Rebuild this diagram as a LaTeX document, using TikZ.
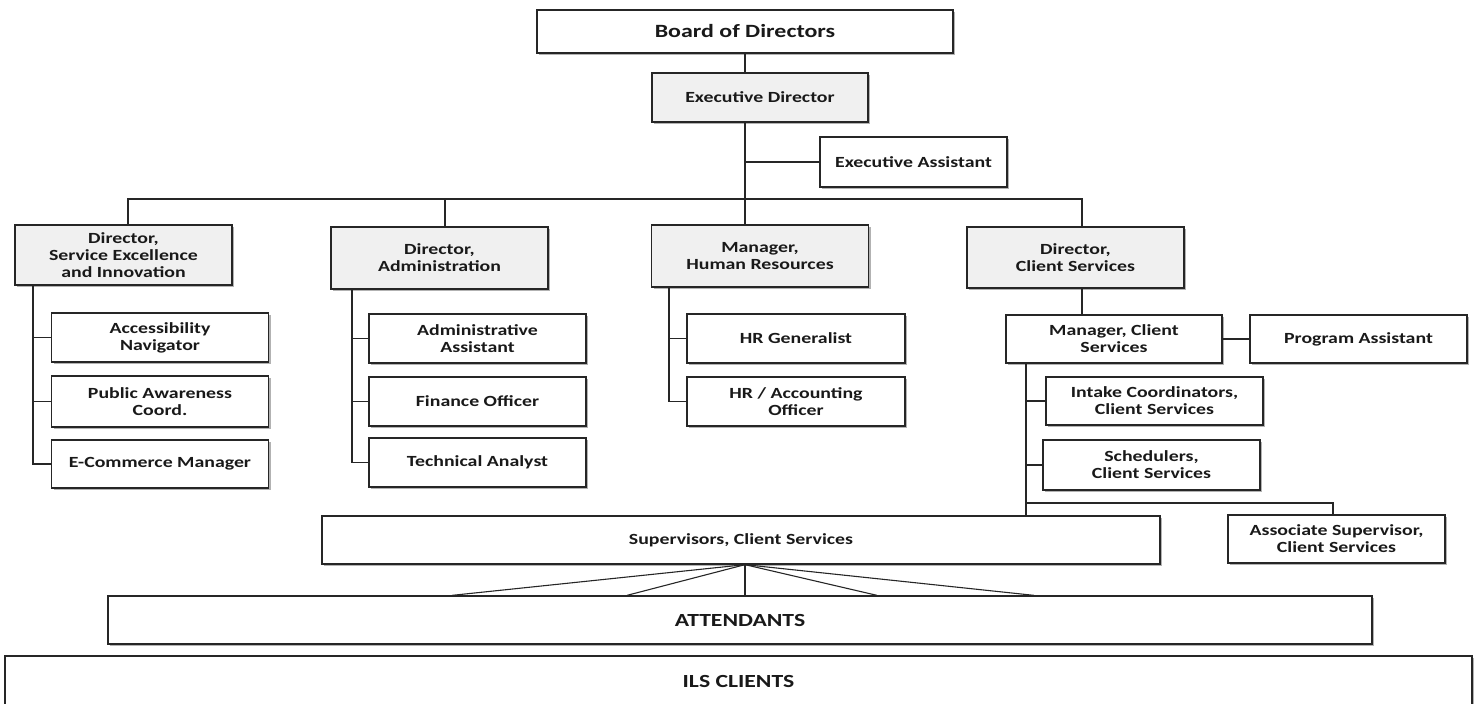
\documentclass[tikz,border=0pt]{standalone}
\usepackage{fontspec}
\setmainfont{Carlito}[FakeStretch=1.28]
\usetikzlibrary{shadows,calc}

\tikzset{
  box/.style={draw=black!85, line width=1.3pt, fill=white, text=black!90,
    minimum width=217pt, minimum height=49pt, align=center, inner sep=1pt,
    font=\bfseries\fontsize{15.5}{17}\selectfont,
    drop shadow={shadow xshift=2pt, shadow yshift=-2pt, fill=black, opacity=0.3}},
  headbox/.style={box, fill=black!6},
  link/.style={line width=1.3pt, draw=black!85},
}

\begin{document}
\begin{tikzpicture}[x=1pt, y=-1pt]
  \useasboundingbox (0,0) rectangle (1478,704);

  % top
  \node[box, minimum width=416pt, minimum height=43pt, font=\bfseries\fontsize{18.7}{21}\selectfont] (board) at (745,31.5) {Board of Directors};
  \node[headbox, minimum width=216pt] (exec) at (760,97.5) {Executive Director};
  \node[box, minimum width=187pt, minimum height=50pt] (assist) at (913.5,162) {Executive Assistant};

  % directors
  \node[headbox, minimum height=60pt] (sei) at (123.5,255) {Director,\\Service Excellence\\and Innovation};
  \node[headbox, minimum height=62pt] (admin) at (439.5,258) {Director,\\Administration};
  \node[headbox, minimum height=62pt] (hrm) at (760,256) {Manager,\\Human Resources};
  \node[headbox, minimum height=61pt] (dcs) at (1075.5,257.5) {Director,\\Client Services};

  % staff
  \node[box] (nav) at (160,337.5) {Accessibility\\Navigator};
  \node[box, minimum height=51pt] (pub) at (160,401.5) {Public Awareness\\Coord.};
  \node[box, minimum height=48pt] (ecom) at (160,464) {E-Commerce Manager};

  \node[box] (aasst) at (477.5,338.5) {Administrative\\Assistant};
  \node[box] (fin) at (477.5,401.5) {Finance Officer};
  \node[box] (tech) at (477.5,462.5) {Technical Analyst};

  \node[box, minimum width=218pt] (hrg) at (796,338.5) {HR Generalist};
  \node[box, minimum width=218pt] (hra) at (796,401.5) {HR / Accounting\\Officer};

  \node[box, minimum width=216pt, minimum height=48pt] (mcs) at (1114,339) {Manager, Client\\Services};
  \node[box, minimum height=48pt] (prog) at (1358.5,339) {Program Assistant};
  \node[box, minimum height=48pt] (intake) at (1154.5,401) {Intake Coordinators,\\Client Services};
  \node[box, minimum height=50pt] (sched) at (1151.5,465) {Schedulers,\\Client Services};

  % bottom
  \node[box, minimum width=838pt, minimum height=48pt, font=\bfseries\fontsize{15.5}{17}\selectfont] (sup) at (741,540) {Supervisors, Client Services};
  \node[box, minimum height=48pt] (assoc) at (1336.5,539) {Associate Supervisor,\\Client Services};
  \node[box, minimum width=1264pt, minimum height=48pt, font=\bfseries\fontsize{18.5}{21}\selectfont] (att) at (740,620) {ATTENDANTS};
  \node[box, minimum width=1467pt, minimum height=50pt, font=\bfseries\fontsize{18.5}{21}\selectfont] (ils) at (738.5,681) {ILS CLIENTS};

  % bus and spines
  \coordinate (bus) at (745,199);
  \coordinate (b1) at (128,199);
  \coordinate (b2) at (445,199);
  \coordinate (b4) at (1082,199);
  \coordinate (s1) at (33,0);
  \coordinate (s2) at (352,0);
  \coordinate (s3) at (669,0);
  \coordinate (s4) at (1026,0);
  \coordinate (c4) at (1333,503);

  \draw[link] (bus |- board.south) -- (bus |- exec.north);
  \draw[link] (bus |- exec.south) -- (bus) -- (bus |- hrm.north);
  \draw[link] (bus |- assist.west) -- (assist.west);
  \draw[link] (b1 |- sei.north) -- (b1) -- (b4) -- (b4 |- dcs.north);
  \draw[link] (b2) -- (b2 |- admin.north);

  \draw[link] (s1 |- sei.south) -- (s1 |- ecom.west) -- (ecom.west);
  \foreach \n in {nav,pub}
    \draw[link] (s1 |- \n.west) -- (\n.west);

  \draw[link] (s2 |- admin.south) -- (s2 |- tech.west) -- (tech.west);
  \foreach \n in {aasst,fin}
    \draw[link] (s2 |- \n.west) -- (\n.west);

  \draw[link] (s3 |- hrm.south) -- (s3 |- hra.west) -- (hra.west);
  \draw[link] (s3 |- hrg.west) -- (hrg.west);

  \draw[link] (b4 |- dcs.south) -- (b4 |- mcs.north);
  \draw[link] (mcs.east) -- (prog.west);
  \draw[link] (s4 |- mcs.south) -- (s4 |- sup.north);
  \foreach \n in {intake,sched}
    \draw[link] (s4 |- \n.west) -- (\n.west);
  \draw[link] (s4 |- c4) -- (c4) -- (c4 |- assoc.north);

  % fan to attendants
  \foreach \x in {452,627,745,877,1034}
    \draw[link, line width=1.1pt] (bus |- sup.south) -- (\x,0 |- att.north);
\end{tikzpicture}
\end{document}
